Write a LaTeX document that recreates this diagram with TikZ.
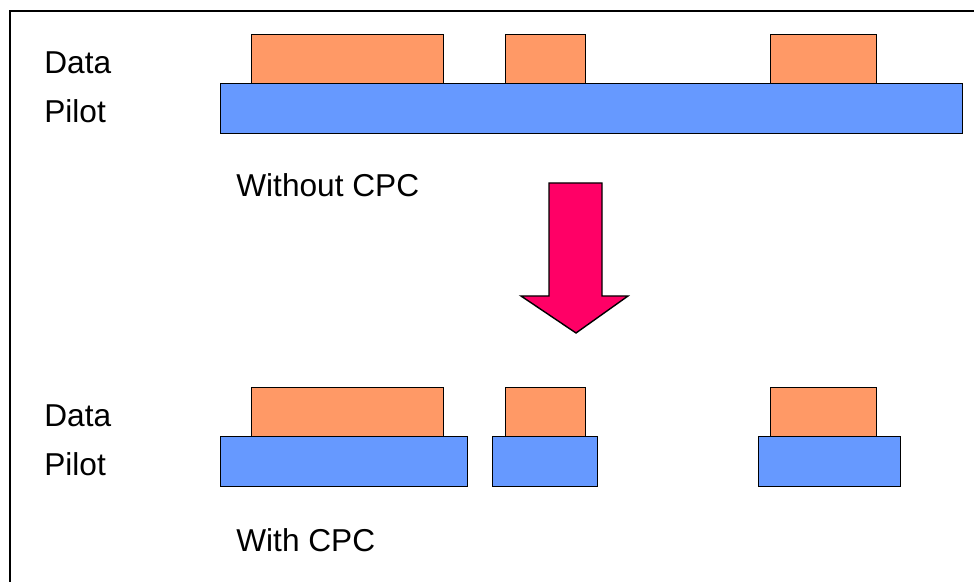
\documentclass[tikz,border=0pt]{standalone}
\usepackage{fontspec}
\setmainfont{Liberation Sans}
\usepackage{tikz}
\usetikzlibrary{positioning}
\definecolor{datac}{RGB}{255,153,102}
\definecolor{pilotc}{RGB}{102,153,255}
\definecolor{arrowc}{RGB}{255,0,102}

\begin{document}
\begin{tikzpicture}[scale=1.0,
  databox/.style={anchor=south west,draw,line width=0.7pt,fill=datac,shape=rectangle,minimum height=0.98cm,inner sep=0pt},
  pilotbox/.style={anchor=south west,draw,line width=0.7pt,fill=pilotc,shape=rectangle,minimum height=1.0cm,inner sep=0pt},
  lbl/.style={anchor=base west,inner sep=0pt,font=\fontsize{18}{21}\selectfont}]
\useasboundingbox (0,0) rectangle (19.48,11.64);
\clip (0,0) rectangle (19.48,11.64);
\draw[line width=1.1pt] (0.20,-1) -- (0.20,11.42) -- (20,11.42);

% without CPC
\node[pilotbox,minimum width=14.84cm] (pilot0) at (4.40cm,8.96cm) {};
\node[databox,minimum width=3.84cm] (data0) at (5.02cm,9.96cm) {};
\node[databox,minimum width=1.60cm] (data1) at (10.10cm,9.96cm) {};
\node[databox,minimum width=2.12cm] (data2) at (15.40cm,9.96cm) {};

\node[lbl] (datalbl0) at (0.88cm,10.16cm) {Data};
\node[lbl] (pilotlbl0) at (0.88cm,9.18cm) {Pilot};
\node[lbl] (without) at (4.72cm,7.70cm) {Without CPC};

% big arrow
\filldraw[fill=arrowc,draw=black,line width=0.8pt,line join=miter]
(10.98,7.98) -- (12.04,7.98) -- (12.04,5.72) -- (12.56,5.72) -- (11.52,4.98)
-- (10.42,5.72) -- (10.98,5.72) -- cycle;

% with CPC
\node[pilotbox,minimum width=4.94cm] (pilot1) at (4.40cm,1.90cm) {};
\node[pilotbox,minimum width=2.10cm] (pilot2) at (9.84cm,1.90cm) {};
\node[pilotbox,minimum width=2.84cm] (pilot3) at (15.16cm,1.90cm) {};
\node[databox,minimum width=3.84cm] (data3) at (5.02cm,2.90cm) {};
\node[databox,minimum width=1.60cm] (data4) at (10.10cm,2.90cm) {};
\node[databox,minimum width=2.12cm] (data5) at (15.40cm,2.90cm) {};

\node[lbl] (datalbl1) at (0.88cm,3.10cm) {Data};
\node[lbl] (pilotlbl1) at (0.88cm,2.12cm) {Pilot};
\node[lbl] (with) at (4.72cm,0.60cm) {With CPC};

\end{tikzpicture}
\end{document}
